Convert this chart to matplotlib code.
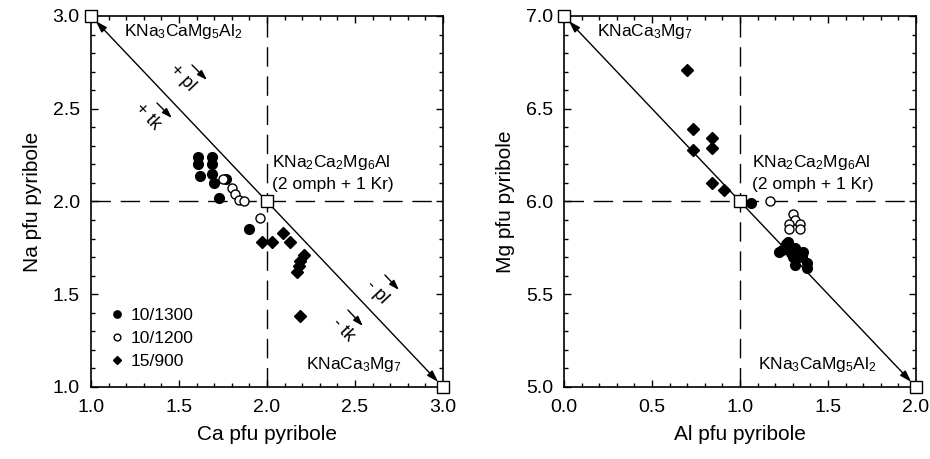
import matplotlib
matplotlib.use("Agg")
import matplotlib.pyplot as plt
from matplotlib.ticker import MultipleLocator

plt.rcParams['font.family'] = ['Liberation Sans', 'DejaVu Sans']
plt.rcParams['mathtext.fontset'] = 'custom'
plt.rcParams['mathtext.rm'] = 'Liberation Sans'
plt.rcParams['mathtext.default'] = 'regular'

# left panel: Ca vs Na (pfu pyribole)
ca_1300 = [1.61, 1.61, 1.69, 1.69, 1.62, 1.69, 1.70, 1.77, 1.73, 1.90]
na_1300 = [2.24, 2.20, 2.24, 2.20, 2.14, 2.15, 2.10, 2.12, 2.02, 1.85]
ca_1200 = [1.75, 1.80, 1.82, 1.84, 1.87, 1.96]
na_1200 = [2.12, 2.07, 2.04, 2.01, 2.00, 1.91]
ca_900 = [1.97, 2.03, 2.09, 2.13, 2.21, 2.19, 2.18, 2.17, 2.19]
na_900 = [1.78, 1.78, 1.83, 1.78, 1.71, 1.68, 1.65, 1.62, 1.38]

# right panel: Al vs Mg (pfu pyribole)
al_1300 = [1.06, 1.24, 1.26, 1.27, 1.31, 1.33, 1.36, 1.30, 1.31, 1.38, 1.38, 1.29, 1.35, 1.22]
mg_1300 = [5.99, 5.74, 5.77, 5.78, 5.75, 5.73, 5.73, 5.70, 5.66, 5.67, 5.64, 5.72, 5.70, 5.73]
al_1200 = [1.17, 1.30, 1.31, 1.28, 1.34, 1.28, 1.34]
mg_1200 = [6.00, 5.93, 5.90, 5.88, 5.88, 5.85, 5.85]
al_900 = [0.70, 0.73, 0.73, 0.84, 0.84, 0.84, 0.91]
mg_900 = [6.71, 6.39, 6.28, 6.34, 6.29, 6.10, 6.06]

# end-member compositions (corner, middle, corner)
ca_end = [1.0, 2.0, 3.0]
na_end = [3.0, 2.0, 1.0]
al_end = [0.0, 1.0, 2.0]
mg_end = [7.0, 6.0, 5.0]

labels = ['10/1300', '10/1200', '15/900']

dash = (0, (14, 7))
angle = -46.5
fs_txt = 12.5
fs_tick = 14
fs_lab = 15


def setupAxes(ax, xlim, ylim):
    ax.set_xlim(*xlim)
    ax.set_ylim(*ylim)
    ax.xaxis.set_major_locator(MultipleLocator(0.5))
    ax.xaxis.set_minor_locator(MultipleLocator(0.1))
    ax.yaxis.set_major_locator(MultipleLocator(0.5))
    ax.yaxis.set_minor_locator(MultipleLocator(0.1))
    ax.tick_params(which='both', direction='in', top=True, right=True, width=1.0)
    ax.tick_params(which='major', length=5, labelsize=fs_tick)
    ax.tick_params(which='minor', length=2.8)
    ax.tick_params(axis='x', which='major', pad=9)
    ax.tick_params(axis='y', which='major', pad=8)
    for s in ax.spines.values():
        s.set_linewidth(1.2)


def drawSeries(ax, x1, y1, x2, y2, x3, y3):
    ax.plot(x1, y1, 'o', ms=7, mfc='black', mec='black', label=labels[0])
    ax.plot(x2, y2, 'o', ms=6.5, mfc='white', mec='black', mew=1.0, label=labels[1])
    ax.plot(x3, y3, 'D', ms=6, mfc='black', mec='black', label=labels[2])


def drawJoin(ax, xe, ye):
    ax.axvline(xe[1], color='black', lw=1.0, ls=dash, zorder=1)
    ax.axhline(ye[1], color='black', lw=1.0, ls=dash, zorder=1)
    ax.annotate('', xy=(xe[0], ye[0]), xytext=(xe[2], ye[2]),
                arrowprops=dict(arrowstyle='<|-|>,head_length=0.7,head_width=0.22',
                                color='black', lw=1.0, shrinkA=5, shrinkB=5),
                zorder=2)
    ax.plot(xe, ye, 's', ms=8, mfc='white', mec='black', mew=1.0,
            clip_on=False, zorder=5)


def shortArrow(ax, x0, y0, x1, y1):
    ax.annotate('', xy=(x1, y1), xytext=(x0, y0),
                arrowprops=dict(arrowstyle='-|>,head_length=0.6,head_width=0.2',
                                color='black', lw=1.0, shrinkA=0, shrinkB=0))


def slantText(ax, x, y, s):
    ax.text(x, y, s, fontsize=13, rotation=angle, ha='center', va='center',
            rotation_mode='anchor')


fig = plt.figure(figsize=(9.3, 4.59), dpi=100)
ax1 = fig.add_axes([0.0978, 0.1569, 0.3785, 0.8083])
ax2 = fig.add_axes([0.6065, 0.1569, 0.3785, 0.8083])

# left panel
setupAxes(ax1, (1.0, 3.0), (1.0, 3.0))
drawJoin(ax1, ca_end, na_end)
drawSeries(ax1, ca_1300, na_1300, ca_1200, na_1200, ca_900, na_900)
ax1.set_xlabel('Ca pfu pyribole', fontsize=fs_lab, labelpad=6)
ax1.set_ylabel('Na pfu pyribole', fontsize=fs_lab, labelpad=8)

ax1.text(1.19, 2.915, r'KNa$_3$CaMg$_5$Al$_2$', fontsize=fs_txt, va='center')
ax1.text(2.03, 2.21, r'KNa$_2$Ca$_2$Mg$_6$Al', fontsize=fs_txt, va='center')
ax1.text(2.03, 2.09, '(2 omph + 1 Kr)', fontsize=fs_txt, va='center')
ax1.text(2.22, 1.12, r'KNaCa$_3$Mg$_7$', fontsize=fs_txt, va='center')

slantText(ax1, 1.52, 2.665, '+ pl')
slantText(ax1, 1.32, 2.455, '+ tk')
slantText(ax1, 2.625, 1.51, '- pl')
slantText(ax1, 2.43, 1.31, '- tk')
shortArrow(ax1, 1.574, 2.736, 1.659, 2.655)
shortArrow(ax1, 1.375, 2.531, 1.46, 2.45)
shortArrow(ax1, 2.67, 1.604, 2.75, 1.523)
shortArrow(ax1, 2.46, 1.415, 2.545, 1.329)

leg = ax1.legend(loc='lower left', bbox_to_anchor=(0.015, 0.02), frameon=False,
                 fontsize=fs_txt, handletextpad=0.2, labelspacing=0.45,
                 handlelength=1.2, markerscale=0.75, borderaxespad=0.2)

# right panel
setupAxes(ax2, (0.0, 2.0), (5.0, 7.0))
drawJoin(ax2, al_end, mg_end)
drawSeries(ax2, al_1300, mg_1300, al_1200, mg_1200, al_900, mg_900)
ax2.set_xlabel('Al pfu pyribole', fontsize=fs_lab, labelpad=6)
ax2.set_ylabel('Mg pfu pyribole', fontsize=fs_lab, labelpad=8)

ax2.text(0.19, 6.915, r'KNaCa$_3$Mg$_7$', fontsize=fs_txt, va='center')
ax2.text(1.07, 6.21, r'KNa$_2$Ca$_2$Mg$_6$Al', fontsize=fs_txt, va='center')
ax2.text(1.07, 6.09, '(2 omph + 1 Kr)', fontsize=fs_txt, va='center')
ax2.text(1.10, 5.12, r'KNa$_3$CaMg$_5$Al$_2$', fontsize=fs_txt, va='center')

fig.savefig('out.png', dpi=100)
